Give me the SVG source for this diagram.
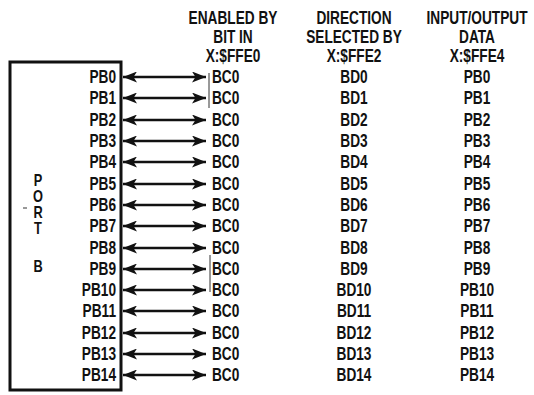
<svg xmlns="http://www.w3.org/2000/svg" width="534" height="395" viewBox="0 0 534 395">
<defs>
<style>
text{font-family:"Liberation Sans","Arial",sans-serif;font-weight:bold;font-size:18px;fill:#111}
.c{text-anchor:middle}
.r{text-anchor:end}
.l{text-anchor:start}
.ar{stroke:#111;stroke-width:2.4;fill:none;marker-start:url(#ah);marker-end:url(#ah)}
.thin{stroke:#333;stroke-width:1;fill:none}
</style>
<marker id="ah" markerUnits="userSpaceOnUse" markerWidth="15" markerHeight="11" refX="14" refY="5.5" orient="auto-start-reverse" viewBox="0 0 15 11">
<path d="M0,0 L14,5.5 L0,11 L3.5,5.5 Z" fill="#111"/>
</marker>
</defs>
<rect width="534" height="395" fill="#fff"/>
<g id="headers">
<g transform="translate(233,0) scale(0.76,1)">
<text class="c" x="0" y="24">ENABLED BY</text>
<text class="c" x="0" y="43">BIT IN</text>
<text class="c" x="0" y="62">X:$FFE0</text>
</g>
<g transform="translate(354,0) scale(0.76,1)">
<text class="c" x="0" y="24">DIRECTION</text>
<text class="c" x="0" y="43">SELECTED BY</text>
<text class="c" x="0" y="62">X:$FFE2</text>
</g>
<g transform="translate(477,0) scale(0.76,1)">
<text class="c" x="0" y="24">INPUT/OUTPUT</text>
<text class="c" x="0" y="43">DATA</text>
<text class="c" x="0" y="62">X:$FFE4</text>
</g>
</g>
<g id="port-b">
<rect x="10" y="62" width="111" height="328" fill="none" stroke="#111" stroke-width="3"/>
<g transform="translate(38,0) scale(0.8,1)">
<text class="c" x="0" y="186" style="font-size:16px">P</text>
<text class="c" x="0" y="202" style="font-size:16px">O</text>
<text class="c" x="0" y="218" style="font-size:16px">R</text>
<text class="c" x="0" y="234" style="font-size:16px">T</text>
<text class="c" x="0" y="272" style="font-size:16px">B</text>
</g>
<line class="thin" x1="23" y1="208" x2="27" y2="208"/>
<g id="pins" transform="translate(116,0) scale(0.76,1)">
<text class="r" x="0" y="83">PB0</text>
<text class="r" x="0" y="104">PB1</text>
<text class="r" x="0" y="126">PB2</text>
<text class="r" x="0" y="147">PB3</text>
<text class="r" x="0" y="168">PB4</text>
<text class="r" x="0" y="190">PB5</text>
<text class="r" x="0" y="211">PB6</text>
<text class="r" x="0" y="232">PB7</text>
<text class="r" x="0" y="254">PB8</text>
<text class="r" x="0" y="275">PB9</text>
<text class="r" x="0" y="296">PB10</text>
<text class="r" x="0" y="317">PB11</text>
<text class="r" x="0" y="339">PB12</text>
<text class="r" x="0" y="360">PB13</text>
<text class="r" x="0" y="381">PB14</text>
</g>
</g>
<g id="connectors">
<line class="ar" x1="123" y1="77" x2="206" y2="77"/>
<line class="ar" x1="123" y1="98" x2="206" y2="98"/>
<line class="ar" x1="123" y1="120" x2="206" y2="120"/>
<line class="ar" x1="123" y1="141" x2="206" y2="141"/>
<line class="ar" x1="123" y1="162" x2="206" y2="162"/>
<line class="ar" x1="123" y1="184" x2="206" y2="184"/>
<line class="ar" x1="123" y1="205" x2="206" y2="205"/>
<line class="ar" x1="123" y1="226" x2="206" y2="226"/>
<line class="ar" x1="123" y1="248" x2="206" y2="248"/>
<line class="ar" x1="123" y1="269" x2="206" y2="269"/>
<line class="ar" x1="123" y1="290" x2="206" y2="290"/>
<line class="ar" x1="123" y1="311" x2="206" y2="311"/>
<line class="ar" x1="123" y1="333" x2="206" y2="333"/>
<line class="ar" x1="123" y1="354" x2="206" y2="354"/>
<line class="ar" x1="123" y1="375" x2="206" y2="375"/>
<line class="thin" x1="209" y1="73" x2="209" y2="108"/>
<line class="thin" x1="210" y1="255" x2="210" y2="292"/>
</g>
<g id="bc-column" transform="translate(212,0) scale(0.76,1)">
<text class="l" x="0" y="83">BC0</text>
<text class="l" x="0" y="104">BC0</text>
<text class="l" x="0" y="126">BC0</text>
<text class="l" x="0" y="147">BC0</text>
<text class="l" x="0" y="168">BC0</text>
<text class="l" x="0" y="190">BC0</text>
<text class="l" x="0" y="211">BC0</text>
<text class="l" x="0" y="232">BC0</text>
<text class="l" x="0" y="254">BC0</text>
<text class="l" x="0" y="275">BC0</text>
<text class="l" x="0" y="296">BC0</text>
<text class="l" x="0" y="317">BC0</text>
<text class="l" x="0" y="339">BC0</text>
<text class="l" x="0" y="360">BC0</text>
<text class="l" x="0" y="381">BC0</text>
</g>
<g id="bd-column" transform="translate(354,0) scale(0.76,1)">
<text class="c" x="0" y="83">BD0</text>
<text class="c" x="0" y="104">BD1</text>
<text class="c" x="0" y="126">BD2</text>
<text class="c" x="0" y="147">BD3</text>
<text class="c" x="0" y="168">BD4</text>
<text class="c" x="0" y="190">BD5</text>
<text class="c" x="0" y="211">BD6</text>
<text class="c" x="0" y="232">BD7</text>
<text class="c" x="0" y="254">BD8</text>
<text class="c" x="0" y="275">BD9</text>
<text class="c" x="0" y="296">BD10</text>
<text class="c" x="0" y="317">BD11</text>
<text class="c" x="0" y="339">BD12</text>
<text class="c" x="0" y="360">BD13</text>
<text class="c" x="0" y="381">BD14</text>
</g>
<g id="pb-column" transform="translate(477,0) scale(0.76,1)">
<text class="c" x="0" y="83">PB0</text>
<text class="c" x="0" y="104">PB1</text>
<text class="c" x="0" y="126">PB2</text>
<text class="c" x="0" y="147">PB3</text>
<text class="c" x="0" y="168">PB4</text>
<text class="c" x="0" y="190">PB5</text>
<text class="c" x="0" y="211">PB6</text>
<text class="c" x="0" y="232">PB7</text>
<text class="c" x="0" y="254">PB8</text>
<text class="c" x="0" y="275">PB9</text>
<text class="c" x="0" y="296">PB10</text>
<text class="c" x="0" y="317">PB11</text>
<text class="c" x="0" y="339">PB12</text>
<text class="c" x="0" y="360">PB13</text>
<text class="c" x="0" y="381">PB14</text>
</g>
</svg>
